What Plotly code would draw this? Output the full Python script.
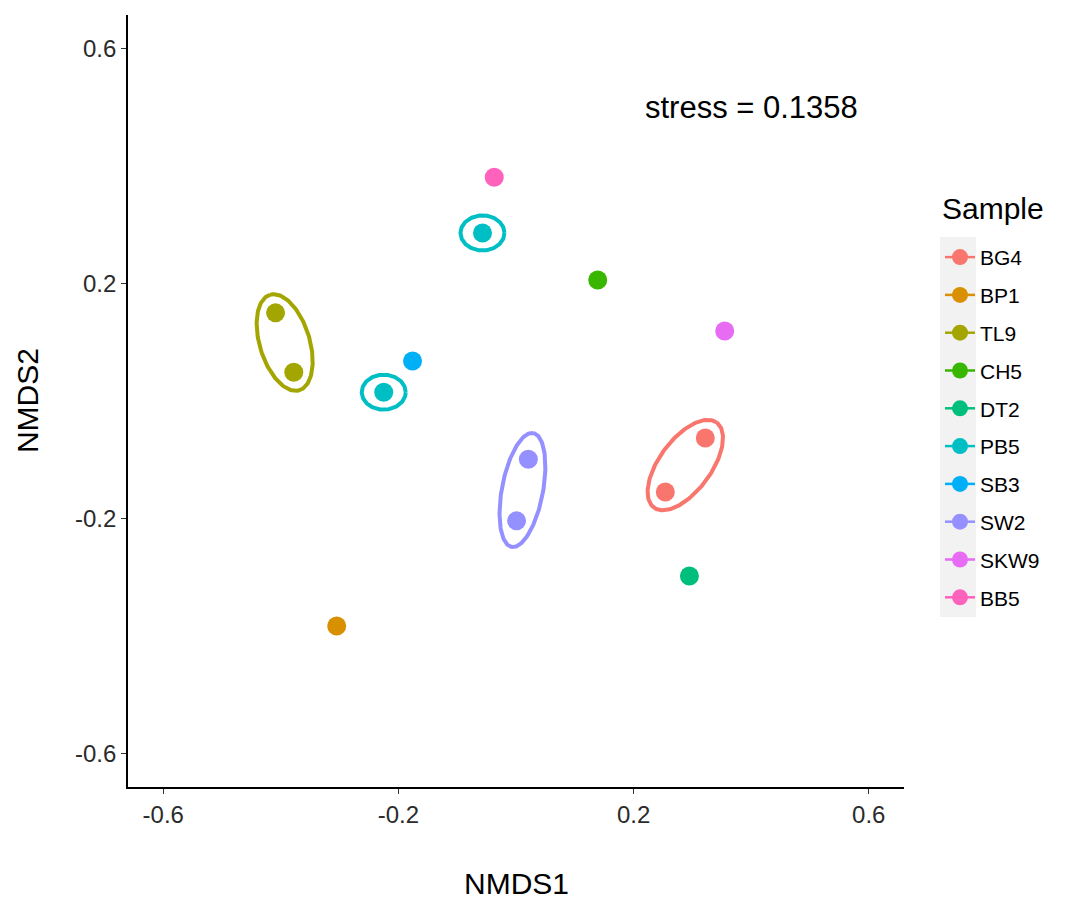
import numpy as np
import plotly.graph_objects as go

# ---- data ----
samples = ["BG4", "BP1", "TL9", "CH5", "DT2", "PB5", "SB3", "SW2", "SKW9", "BB5"]
colors = ["#F8766D", "#D89000", "#A3A500", "#39B600", "#00BF7D",
          "#00BFC4", "#00B0F6", "#9590FF", "#E76BF3", "#FF62BC"]

point_sample = ["BG4", "BG4", "BP1", "TL9", "TL9", "CH5", "DT2",
                "PB5", "PB5", "SB3", "SW2", "SW2", "SKW9", "BB5"]
nmds1 = [0.322, 0.254, -0.305, -0.409, -0.378, 0.139, 0.295,
         -0.057, -0.225, -0.176, 0.021, 0.001, 0.355, -0.037]
nmds2 = [-0.063, -0.155, -0.383, 0.150, 0.049, 0.206, -0.298,
         0.286, 0.015, 0.068, -0.099, -0.204, 0.119, 0.381]

x_ticks = [-0.6, -0.2, 0.2, 0.6]
y_ticks = [-0.6, -0.2, 0.2, 0.6]
stress_text = "stress = 0.1358"

# ellipse sizes (semi-major, semi-minor) in data units
group_ellipse = {"BG4": (0.090, 0.044), "TL9": (0.085, 0.0425), "SW2": (0.0986, 0.035)}
point_ring = {"PB5": (0.0374, 0.0298)}

FONT = "Liberation Sans, Arial, sans-serif"
t = np.linspace(0, 2 * np.pi, 200)

fig = go.Figure()

for s, c in zip(samples, colors):
    xs = np.array([x for x, g in zip(nmds1, point_sample) if g == s])
    ys = np.array([y for y, g in zip(nmds2, point_sample) if g == s])
    # ellipses
    if s in group_ellipse and len(xs) >= 2:
        a, b = group_ellipse[s]
        cx, cy = xs.mean(), ys.mean()
        d = np.array([xs[0] - xs[1], ys[0] - ys[1]])
        u = d / np.linalg.norm(d)
        v = np.array([-u[1], u[0]])
        ex = cx + a * np.cos(t) * u[0] + b * np.sin(t) * v[0]
        ey = cy + a * np.cos(t) * u[1] + b * np.sin(t) * v[1]
        fig.add_trace(go.Scatter(x=ex, y=ey, mode="lines",
                                 line=dict(color=c, width=4),
                                 showlegend=False, hoverinfo="skip",
                                 legendgroup=s))
    if s in point_ring:
        a, b = point_ring[s]
        for px, py in zip(xs, ys):
            fig.add_trace(go.Scatter(x=px + a * np.cos(t), y=py + b * np.sin(t),
                                     mode="lines", line=dict(color=c, width=4),
                                     showlegend=False, hoverinfo="skip",
                                     legendgroup=s))
    fig.add_trace(go.Scatter(x=xs, y=ys, mode="markers",
                             marker=dict(color=c, size=19, line=dict(width=0)),
                             name=s, showlegend=False, legendgroup=s))
    # legend entry (point + path key like ggplot)
    fig.add_trace(go.Scatter(x=[None], y=[None], mode="lines+markers",
                             marker=dict(color=c, size=16, line=dict(width=0)),
                             line=dict(color=c, width=2.5),
                             name=s, legendgroup=s, showlegend=True))

fig.add_annotation(x=0.4, y=0.5, xref="x", yref="y", text=stress_text,
                   showarrow=False, font=dict(family=FONT, size=31, color="black"))

# axis titles
fig.add_annotation(x=0.5, y=-0.1256, xref="paper", yref="paper", text="NMDS1",
                   showarrow=False, yanchor="middle",
                   font=dict(family=FONT, size=30, color="black"))
fig.add_annotation(x=-0.130, y=0.5, xref="paper", yref="paper", text="NMDS2",
                   showarrow=False, textangle=-90, xanchor="center",
                   font=dict(family=FONT, size=30, color="black"))

# legend title
fig.add_annotation(x=1.046, y=0.75, xref="paper", yref="paper", text="Sample",
                   showarrow=False, xanchor="left", yanchor="middle",
                   font=dict(family=FONT, size=30, color="black"))

# grey legend key background
fig.add_shape(type="rect", xref="paper", yref="paper",
              x0=1.0464, x1=1.0928, y0=0.2202, y1=0.7124,
              fillcolor="#F2F2F2", line=dict(width=0), layer="below")

axis_common = dict(
    showgrid=False, zeroline=False, showline=True, linecolor="black",
    linewidth=1.6, ticks="outside", ticklen=5, tickwidth=1.2,
    tickcolor="#333333", tickfont=dict(family=FONT, size=24, color="#2b2b2b"),
    mirror=False,
)

fig.update_layout(
    width=1070, height=904,
    margin=dict(l=120, r=174, t=7, b=125),
    paper_bgcolor="white", plot_bgcolor="white",
    xaxis=dict(range=[-0.66, 0.66], tickvals=x_ticks,
               ticktext=[f"{v:.1f}" for v in x_ticks], **axis_common),
    yaxis=dict(range=[-0.657, 0.657], tickvals=y_ticks,
               ticktext=[f"{v:.1f}" for v in y_ticks], **axis_common),
    legend=dict(
        x=1.0464, y=0.7125, xanchor="left", yanchor="top",
        font=dict(family=FONT, size=21, color="black"),
        bgcolor="rgba(0,0,0,0)", tracegroupgap=7.5, itemsizing="trace",
    ),
    showlegend=True,
)

fig.write_html("out.html")
